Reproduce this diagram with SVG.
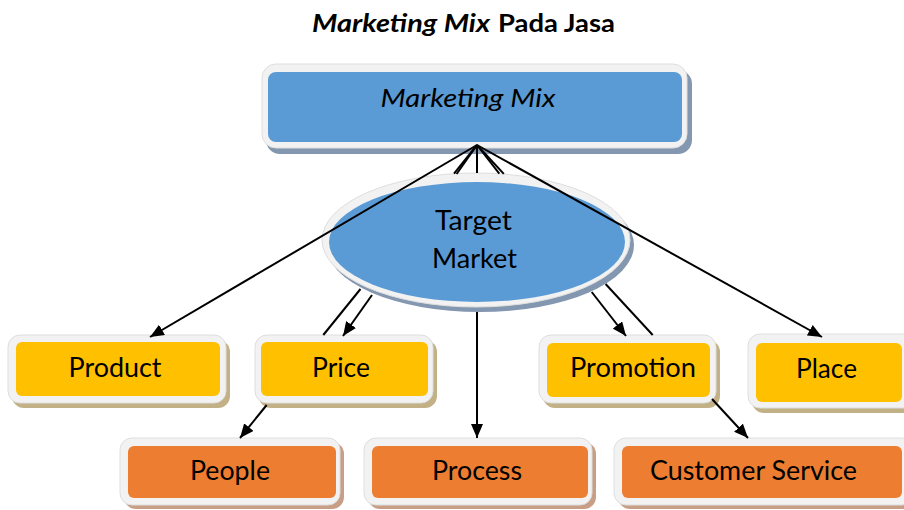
<svg xmlns="http://www.w3.org/2000/svg" width="904" height="510" viewBox="0 0 904 510">
  <defs>
    <marker id="arrow" viewBox="0 0 14 12" refX="14" refY="6" markerWidth="14" markerHeight="12" markerUnits="userSpaceOnUse" orient="auto">
      <path d="M0,0 L14,6 L0,12 z" fill="#000"/>
    </marker>
  </defs>
  <style>
    .frame { fill: #f2f2f2; stroke: #dedede; stroke-width: 1; }
    .sh-blue { fill: #8497b0; }
    .sh-yellow { fill: #c2b186; }
    .sh-orange { fill: #c89f86; }
    .blue { fill: #5b9bd5; }
    .yellow { fill: #ffc000; }
    .orange { fill: #ed7d31; }
    .label { font-family: Lato, "Open Sans", "Liberation Sans", sans-serif; font-size: 26px; fill: #000; text-anchor: middle; }
    .title { font-family: Lato, "Open Sans", "Liberation Sans", sans-serif; font-size: 24px; font-weight: bold; fill: #000; }
    .link { stroke: #000; stroke-width: 2; fill: none; }
    .arrowed { marker-end: url(#arrow); }
  </style>

  <rect width="904" height="510" fill="#fff"/>

  <!-- heading -->
  <text class="title" y="32"><tspan x="312" font-style="italic" textLength="178" lengthAdjust="spacingAndGlyphs">Marketing Mix</tspan><tspan x="498" textLength="117" lengthAdjust="spacingAndGlyphs">Pada Jasa</tspan></text>

  <!-- top box -->
  <g id="marketing-mix">
    <rect class="sh-blue" x="266" y="70" width="426" height="84" rx="14"/>
    <rect class="frame" x="262" y="64" width="425" height="84" rx="14"/>
    <rect class="blue" x="268" y="72" width="414" height="70" rx="8"/>
    <text class="label" x="468" y="107" font-style="italic" textLength="175" lengthAdjust="spacingAndGlyphs">Marketing Mix</text>
  </g>

  <!-- centre ellipse -->
  <g id="target-market">
    <ellipse class="sh-blue" cx="480" cy="245" rx="154" ry="67"/>
    <ellipse class="frame" cx="476" cy="240" rx="154" ry="67"/>
    <ellipse class="blue" cx="477" cy="242" rx="148" ry="60"/>
    <text class="label" x="473.5" y="230" textLength="77" lengthAdjust="spacingAndGlyphs">Target</text>
    <text class="label" x="474.5" y="268" textLength="85" lengthAdjust="spacingAndGlyphs">Market</text>
  </g>

  <!-- first tier -->
  <g id="product">
    <rect class="sh-yellow" x="12" y="340" width="218" height="68" rx="12"/>
    <rect class="frame" x="8" y="335" width="218" height="68" rx="12"/>
    <rect class="yellow" x="16" y="342" width="204" height="54" rx="6"/>
    <text class="label" x="115" y="377" textLength="93" lengthAdjust="spacingAndGlyphs">Product</text>
  </g>
  <g id="price">
    <rect class="sh-yellow" x="259" y="340" width="178" height="68" rx="12"/>
    <rect class="frame" x="255" y="335" width="178" height="68" rx="12"/>
    <rect class="yellow" x="261" y="342" width="167" height="54" rx="6"/>
    <text class="label" x="341" y="377" textLength="58" lengthAdjust="spacingAndGlyphs">Price</text>
  </g>
  <g id="promotion">
    <rect class="sh-yellow" x="543" y="340" width="177" height="68" rx="12"/>
    <rect class="frame" x="539" y="335" width="177" height="68" rx="12"/>
    <rect class="yellow" x="547" y="343" width="163" height="54" rx="6"/>
    <text class="label" x="633" y="377" textLength="126" lengthAdjust="spacingAndGlyphs">Promotion</text>
  </g>
  <g id="place">
    <rect class="sh-yellow" x="752" y="339" width="170" height="74" rx="12"/>
    <rect class="frame" x="748" y="334" width="170" height="74" rx="12"/>
    <rect class="yellow" x="756" y="343" width="146" height="59" rx="6"/>
    <text class="label" x="826.5" y="378" textLength="61" lengthAdjust="spacingAndGlyphs">Place</text>
  </g>

  <!-- second tier -->
  <g id="people">
    <rect class="sh-orange" x="124" y="442" width="220" height="67" rx="12"/>
    <rect class="frame" x="120" y="438" width="220" height="67" rx="12"/>
    <rect class="orange" x="128" y="446" width="208" height="52" rx="6"/>
    <text class="label" x="230" y="480" textLength="80" lengthAdjust="spacingAndGlyphs">People</text>
  </g>
  <g id="process">
    <rect class="sh-orange" x="368" y="442" width="228" height="67" rx="12"/>
    <rect class="frame" x="364" y="438" width="228" height="67" rx="12"/>
    <rect class="orange" x="372" y="446" width="216" height="52" rx="6"/>
    <text class="label" x="477" y="480" textLength="90" lengthAdjust="spacingAndGlyphs">Process</text>
  </g>
  <g id="customer-service">
    <rect class="sh-orange" x="618" y="442" width="300" height="67" rx="12"/>
    <rect class="frame" x="614" y="438" width="300" height="67" rx="12"/>
    <rect class="orange" x="622" y="446" width="280" height="52" rx="6"/>
    <text class="label" x="753.5" y="480" textLength="207" lengthAdjust="spacingAndGlyphs">Customer Service</text>
  </g>

  <!-- connectors fanning out from the top box; segments stop where they pass behind shapes -->
  <g id="connectors">
    <line class="link arrowed" x1="477" y1="145" x2="150" y2="337"/>
    <line class="link arrowed" x1="477" y1="145" x2="822" y2="337"/>

    <line class="link" x1="477" y1="145" x2="456.6" y2="174"/>
    <line class="link arrowed" x1="372" y1="295" x2="343" y2="336"/>

    <line class="link" x1="477" y1="145" x2="454" y2="173.7"/>
    <line class="link" x1="360.5" y1="289" x2="323.3" y2="335"/>
    <line class="link arrowed" x1="266.7" y1="405" x2="240" y2="438"/>

    <line class="link" x1="477" y1="145" x2="477" y2="173"/>
    <line class="link arrowed" x1="477" y1="312" x2="477" y2="438"/>

    <line class="link" x1="477" y1="145" x2="499.3" y2="173.6"/>
    <line class="link arrowed" x1="591.7" y1="292" x2="626" y2="336"/>

    <line class="link" x1="477" y1="145" x2="503.8" y2="173.9"/>
    <line class="link" x1="605.6" y1="284" x2="652.7" y2="335"/>
    <line class="link arrowed" x1="712" y1="399" x2="748" y2="438"/>
  </g>
</svg>
